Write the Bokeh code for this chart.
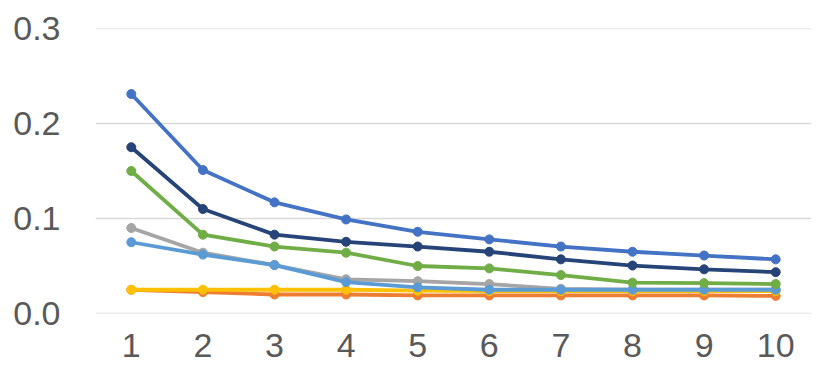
from bokeh.plotting import figure
from bokeh.models import Range1d, FixedTicker, NumeralTickFormatter, Span
from bokeh.embed import file_html
from bokeh.resources import INLINE

x = [1, 2, 3, 4, 5, 6, 7, 8, 9, 10]
x_labels = ["1", "2", "3", "4", "5", "6", "7", "8", "9", "10"]
y_ticks = [0.0, 0.1, 0.2, 0.3]

blue = [0.231, 0.151, 0.117, 0.099, 0.086, 0.078, 0.0705, 0.065, 0.061, 0.057]
orange = [0.025, 0.0225, 0.020, 0.020, 0.019, 0.019, 0.019, 0.019, 0.019, 0.0185]
gray = [0.090, 0.064, 0.051, 0.036, 0.034, 0.031, 0.026, 0.025, 0.025, 0.025]
yellow = [0.025, 0.025, 0.025, 0.025, 0.024, 0.0235, 0.0235, 0.0235, 0.0235, 0.0235]
lightblue = [0.075, 0.062, 0.051, 0.033, 0.0275, 0.025, 0.025, 0.025, 0.025, 0.025]
green = [0.150, 0.083, 0.0705, 0.064, 0.050, 0.0475, 0.0405, 0.0325, 0.032, 0.031]
navy = [0.175, 0.110, 0.083, 0.0755, 0.0705, 0.065, 0.057, 0.0505, 0.0465, 0.0435]

series = [
    (blue, "#4472C4"),
    (orange, "#ED7D31"),
    (gray, "#A5A5A5"),
    (yellow, "#FFC000"),
    (lightblue, "#5B9BD5"),
    (green, "#70AD47"),
    (navy, "#264478"),
]

p = figure(width=814, height=364, output_backend="svg", toolbar_location=None,
           x_range=Range1d(0.5, 10.5), y_range=Range1d(0, 0.3),
           min_border_left=95, min_border_right=3, min_border_top=28, min_border_bottom=51)
p.outline_line_color = None
p.background_fill_color = "white"
p.border_fill_color = "white"

p.xgrid.grid_line_color = None
p.ygrid.grid_line_color = "#D9D9D9"
p.ygrid.grid_line_width = 1.5
p.ygrid.ticker = FixedTicker(ticks=y_ticks)
for yv in (y_ticks[0], y_ticks[-1]):
    p.add_layout(Span(location=yv, dimension="width", line_color="#D9D9D9", line_width=1.5))

for ys, c in series:
    p.line(x, ys, line_color=c, line_width=3.8)
    p.scatter(x, ys, size=9, fill_color=c, line_color=c)

p.xaxis.ticker = FixedTicker(ticks=x)
p.xaxis.major_label_overrides = {xi: lab for xi, lab in zip(x, x_labels)}
p.yaxis.ticker = FixedTicker(ticks=y_ticks)
p.yaxis.formatter = NumeralTickFormatter(format="0.0")

for ax in (p.xaxis[0], p.yaxis[0]):
    ax.axis_line_color = None
    ax.major_tick_line_color = None
    ax.minor_tick_line_color = None
    ax.major_label_text_font = "Liberation Sans"
    ax.major_label_text_font_size = "34px"
    ax.major_label_text_color = "#595959"
p.yaxis.major_label_standoff = 29
p.xaxis.major_label_standoff = 14

open("out.html", "w").write(file_html(p, INLINE))
